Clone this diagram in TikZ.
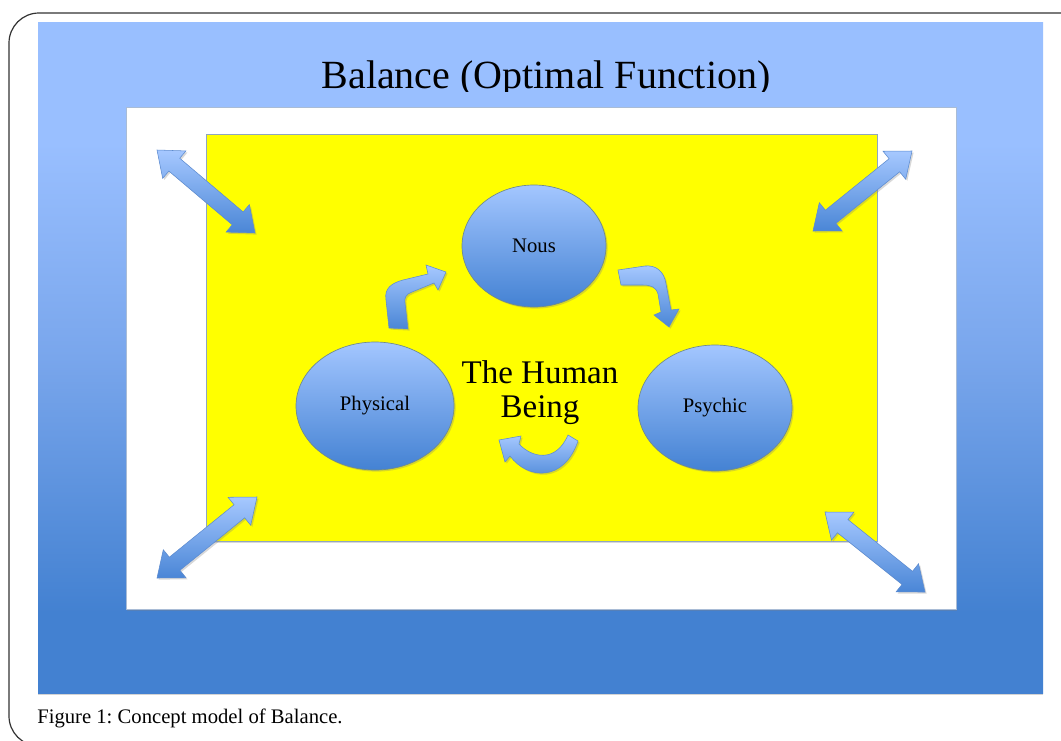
\documentclass[tikz,border=0pt]{standalone}
\usepackage{fontspec}
\setmainfont{Liberation Serif}
\usetikzlibrary{shapes.geometric,shadows,calc}

\definecolor{ftop}{HTML}{99BFFF}
\definecolor{fmid}{HTML}{79A6EC}
\definecolor{fbot}{HTML}{4381D1}
\definecolor{balltop}{HTML}{A3C6FF}
\definecolor{ballbot}{HTML}{4482D3}
\definecolor{ballrim}{HTML}{6F8A8C}
\definecolor{arrtop}{HTML}{A6C8FF}
\definecolor{arrbot}{HTML}{4A86D6}
\definecolor{arrrim}{HTML}{5C8BD0}
\definecolor{yellowrim}{HTML}{8FA6C0}
\definecolor{whiterim}{HTML}{A9BCD6}
\definecolor{field}{HTML}{FFFF00}

% vertical fade of the blue frame (light on top, deep blue at the bottom)
\pgfdeclareverticalshading{framefade}{100bp}{color(0bp)=(fbot); color(31bp)=(fbot); color(50bp)=(fmid); color(66bp)=(ftop); color(100bp)=(ftop)}

\tikzset{
  softshadow/.style={drop shadow={opacity=0.3, shadow xshift=1.2pt, shadow yshift=-1.2pt}},
  ball/.style={ellipse, inner sep=0pt, top color=balltop, bottom color=ballbot,
    draw=ballrim, line width=0.5pt, font=\fontsize{15.5}{18}\selectfont, softshadow},
  blockarrow/.style={top color=arrtop, bottom color=arrbot, draw=arrrim,
    line width=0.4pt, softshadow},
}

% straight block arrow with a head at both ends
\newcommand\twowayarrow[2]{%
  \path (#1) coordinate (ta) (#2) coordinate (tb);
  \path ($(ta)!17pt!(tb)$) coordinate (ha) ($(tb)!17pt!(ta)$) coordinate (hb);
  \path[blockarrow] (ta) -- ($(ha)!13.5pt!90:(tb)$) -- ($(ha)!6.3pt!90:(tb)$)
    -- ($(hb)!6.3pt!-90:(ta)$) -- ($(hb)!13.5pt!-90:(ta)$) -- (tb)
    -- ($(hb)!13.5pt!90:(ta)$) -- ($(hb)!6.3pt!90:(ta)$)
    -- ($(ha)!6.3pt!-90:(tb)$) -- ($(ha)!13.5pt!-90:(tb)$) -- cycle;
}

\begin{document}
\frenchspacing
\begin{tikzpicture}[x=0.75pt,y=-0.75pt]
\useasboundingbox (0,0) rectangle (1061,740);

% rounded page frame
\begin{scope}
  \clip (0,0) rectangle (1061,740);
  \draw[line width=0.9pt, draw=black!80, rounded corners=22.5pt] (9,13) rectangle (1090,746);
\end{scope}

% blue frame, white mat and yellow field
\path[shading=framefade, drop shadow={opacity=0.35, shadow xshift=0pt, shadow yshift=-1.8pt}]
  (38,22) rectangle (1043,693);
\path[fill=white, draw=whiterim, line width=0.5pt,
  drop shadow={opacity=0.3, shadow xshift=1pt, shadow yshift=-1.5pt}]
  (126,107) rectangle (956,609);
\path[fill=field, draw=yellowrim, line width=0.6pt,
  drop shadow={opacity=0.3, shadow xshift=0.8pt, shadow yshift=-1.2pt}]
  (206,134) rectangle (877,541);

% heading, cut off by its text box
\begin{scope}
  \clip (38,22) rectangle (1043,91.5);
  \node[anchor=base, inner sep=0pt, font=\fontsize{30}{34}\selectfont] (title) at (546,88)
    {Balance (Optimal Function)};
\end{scope}

% diagonal two-way arrows at the corners
\coordinate (tla) at (157,150); \coordinate (tlb) at (255,233);
\coordinate (bla) at (157,578); \coordinate (blb) at (257,497);
\coordinate (tra) at (813,231); \coordinate (trb) at (912,151);
\coordinate (bra) at (825,512); \coordinate (brb) at (925,592);
\twowayarrow{tla}{tlb}
\twowayarrow{bla}{blb}
\twowayarrow{tra}{trb}
\twowayarrow{bra}{brb}

% the three parts
\node[ball, minimum width=108pt, minimum height=91.5pt] (nous) at (534,246) {Nous};
\node[ball, minimum width=118.5pt, minimum height=96pt] (physical) at (375,406) {Physical};
\node[ball, minimum width=115.5pt, minimum height=94.5pt] (psychic) at (715,408) {Psychic};

\node[align=center, inner sep=0pt, font=\fontsize{24.75}{25.5}\selectfont] (human) at (540,393)
  {The Human\\Being};

% bent arrows of the cycle
% Physical -> Nous
\path[blockarrow] (389,328) -- (386,300) .. controls (384,288) and (392,283) .. (403,280)
  -- (428,274) -- (426,265) -- (446,272) -- (438,290) -- (434,283) -- (412,292)
  .. controls (406,294) and (404,298) .. (405,303) -- (408,329) -- cycle;
% Nous -> Psychic
\path[blockarrow] (618,270) -- (645,266) .. controls (656,265) and (664,271) .. (666,284)
  -- (671,310) -- (679,309) -- (669,327) -- (654,315) -- (661,312) -- (658,294)
  .. controls (656,287) and (651,285) .. (643,285) -- (621,285) -- cycle;
% Psychic -> Physical
\path[blockarrow] (499,440) -- (521,436) -- (519,444)
  .. controls (532,458) and (556,463) .. (568,435) -- (578,441)
  .. controls (564,482) and (528,480) .. (510,456) -- (505,462) -- cycle;

% caption
\node[anchor=base west, inner sep=0pt, font=\fontsize{15.5}{18}\selectfont] (caption) at (37,723)
  {Figure 1: Concept model of Balance.};
\end{tikzpicture}
\end{document}
